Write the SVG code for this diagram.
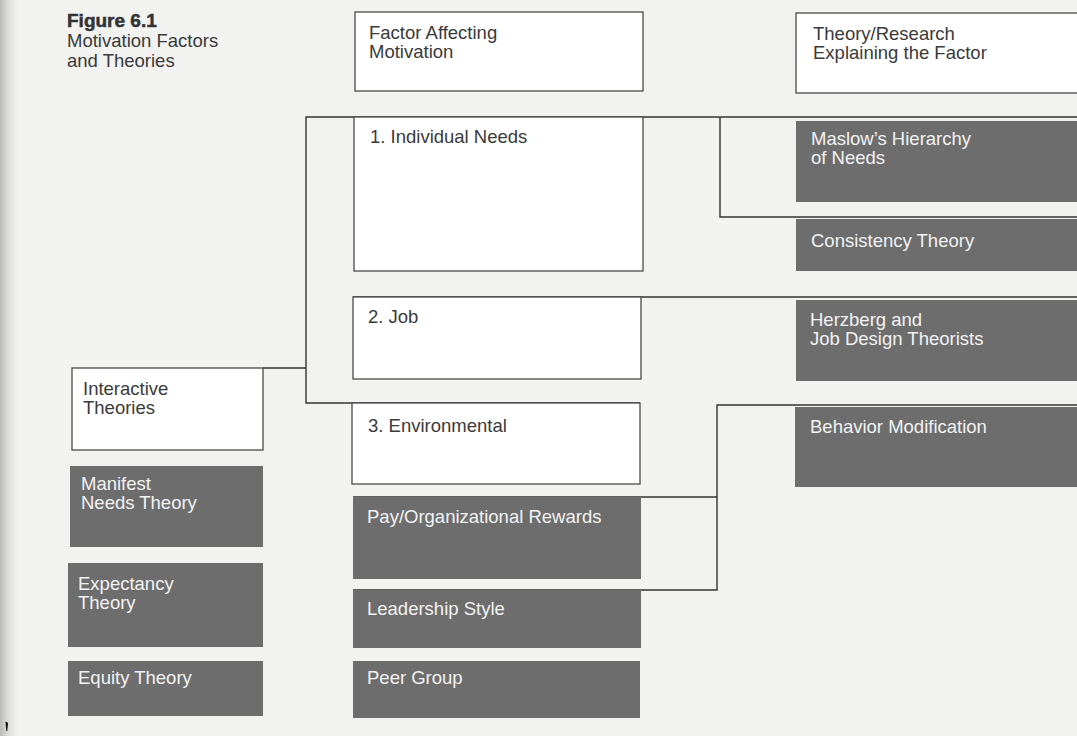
<svg xmlns="http://www.w3.org/2000/svg" width="1077" height="736" viewBox="0 0 1077 736">
  <defs>
    <linearGradient id="edge" x1="0" y1="0" x2="1" y2="0">
      <stop offset="0" stop-color="#b8b8b8"/>
      <stop offset="1" stop-color="#f2f2f0" stop-opacity="0"/>
    </linearGradient>
    <style>
      .t { font-family: "Liberation Sans", Arial, sans-serif; font-size: 18.5px; fill: #3a3a3a; }
      .tw { font-family: "Liberation Sans", Arial, sans-serif; font-size: 18.5px; fill: #f2f2f2; }
      .title { font-family: "Liberation Sans", Arial, sans-serif; font-size: 19px; font-weight: bold; fill: #333333; stroke: #333333; stroke-width: 0.5; }
      .box { fill: #ffffff; stroke: #4a4a4a; stroke-width: 1.3; }
      .dark { fill: #6d6d6d; }
      .conn { fill: none; stroke: #333333; stroke-width: 1.4; }
    </style>
  </defs>
  <rect x="0" y="0" width="1077" height="736" fill="#f2f2f0"/>
  <rect x="0" y="0" width="22" height="736" fill="url(#edge)"/>
  <path d="M5.5,722 Q7.5,721 8,724 L7.2,731 L6.3,731 Z" fill="#111"/>

  <g id="title">
    <text class="title" x="67" y="27">Figure 6.1</text>
    <text class="t" x="67" y="47">Motivation Factors</text>
    <text class="t" x="67" y="67">and Theories</text>
  </g>

  <g id="connectors">
    <path class="conn" d="M263,368 H306"/>
    <path class="conn" d="M1077,117 H306 V403 H640"/>
    <path class="conn" d="M720,117 V217 H1077"/>
    <path class="conn" d="M353,297 H1077"/>
    <path class="conn" d="M1077,405 H717 V590 H353"/>
    <path class="conn" d="M353,497 H717"/>
  </g>

  <g id="header-factor">
    <rect class="box" x="355" y="12" width="288" height="79"/>
    <text class="t" x="369" y="39">Factor Affecting</text>
    <text class="t" x="369" y="58">Motivation</text>
  </g>
  <g id="header-theory">
    <rect class="box" x="796" y="13" width="290" height="80"/>
    <text class="t" x="813" y="40">Theory/Research</text>
    <text class="t" x="813" y="59">Explaining the Factor</text>
  </g>

  <g id="individual-needs">
    <rect class="box" x="354" y="117" width="289" height="154"/>
    <text class="t" x="370" y="143">1. Individual Needs</text>
  </g>
  <g id="job">
    <rect class="box" x="353" y="297" width="288" height="82"/>
    <text class="t" x="368" y="323">2. Job</text>
  </g>
  <g id="environmental">
    <rect class="box" x="352" y="403" width="288" height="81"/>
    <text class="t" x="368" y="432">3. Environmental</text>
  </g>
  <g id="interactive-theories">
    <rect class="box" x="72" y="368" width="191" height="82"/>
    <text class="t" x="83" y="395">Interactive</text>
    <text class="t" x="83" y="414">Theories</text>
  </g>

  <g id="maslow">
    <rect class="dark" x="796" y="121" width="290" height="81"/>
    <text class="tw" x="811" y="145">Maslow’s Hierarchy</text>
    <text class="tw" x="811" y="164">of Needs</text>
  </g>
  <g id="consistency">
    <rect class="dark" x="796" y="219" width="290" height="52"/>
    <text class="tw" x="811" y="247">Consistency Theory</text>
  </g>
  <g id="herzberg">
    <rect class="dark" x="796" y="300" width="290" height="81"/>
    <text class="tw" x="810" y="326">Herzberg and</text>
    <text class="tw" x="810" y="345">Job Design Theorists</text>
  </g>
  <g id="behavior-modification">
    <rect class="dark" x="795" y="407" width="290" height="80"/>
    <text class="tw" x="810" y="433">Behavior Modification</text>
  </g>
  <g id="pay">
    <rect class="dark" x="353" y="497" width="288" height="82"/>
    <text class="tw" x="367" y="523">Pay/Organizational Rewards</text>
  </g>
  <g id="leadership">
    <rect class="dark" x="353" y="590" width="288" height="58"/>
    <text class="tw" x="367" y="615">Leadership Style</text>
  </g>
  <g id="peer-group">
    <rect class="dark" x="353" y="661" width="287" height="57"/>
    <text class="tw" x="367" y="684">Peer Group</text>
  </g>
  <g id="manifest-needs">
    <rect class="dark" x="70" y="466" width="193" height="81"/>
    <text class="tw" x="81" y="490">Manifest</text>
    <text class="tw" x="81" y="509">Needs Theory</text>
  </g>
  <g id="expectancy">
    <rect class="dark" x="68" y="563" width="195" height="84"/>
    <text class="tw" x="78" y="590">Expectancy</text>
    <text class="tw" x="78" y="609">Theory</text>
  </g>
  <g id="equity">
    <rect class="dark" x="68" y="661" width="195" height="55"/>
    <text class="tw" x="78" y="684">Equity Theory</text>
  </g>
</svg>
